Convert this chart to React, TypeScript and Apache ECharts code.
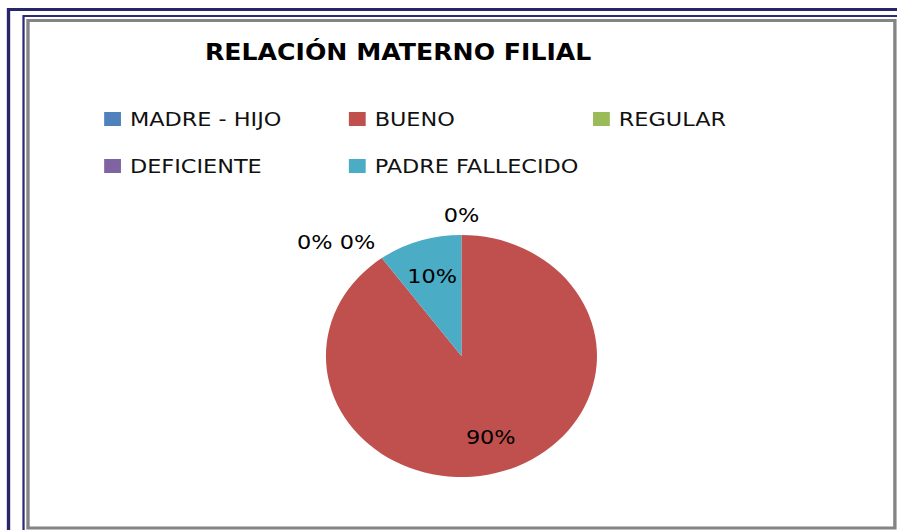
import React, { useEffect, useRef } from "react";
import * as echarts from "echarts";

const TITLE = "RELACIÓN MATERNO FILIAL";
const categories = ["MADRE - HIJO", "BUENO", "REGULAR", "DEFICIENTE", "PADRE FALLECIDO"];
const values = [0, 90, 0, 0, 10];
const colors = ["#4F81BD", "#C0504D", "#9BBB59", "#8064A2", "#4BACC6"];
const legendColumns = [
  ["MADRE - HIJO", "DEFICIENTE"],
  ["BUENO", "PADRE FALLECIDO"],
  ["REGULAR"],
];

// layout (chart space, later stretched horizontally)
const SX = 1.12;
const W = 801;
const H = 530;
const CX = 412;
const CY = 356;
const R = 121;
const legendLefts = [93, 311.5, 529.5];

export default function App() {
  const ref = useRef<HTMLDivElement>(null);
  useEffect(() => {
    if (!ref.current) return;
    const chart = echarts.init(ref.current, null, { renderer: "svg" });
    const total = values.reduce((a, b) => a + b, 0);
    const midAngles = values.map((v, i) => {
      const cum = values.slice(0, i).reduce((a, b) => a + b, 0);
      return ((cum + v / 2) / total) * Math.PI * 2;
    });

    const labelLayout = (params: any) => {
      const i = params.dataIndex;
      const a = midAngles[i];
      const s = Math.sin(a);
      const c = Math.cos(a);
      if (values[i] > 0) {
        const r = R * 0.7;
        return { x: CX + r * s, y: CY - r * c, align: "center", verticalAlign: "middle" };
      }
      let dup = 0;
      for (let j = 0; j < i; j++) {
        if (values[j] === 0 && Math.abs(midAngles[j] - a) < 1e-6) dup++;
      }
      const side = Math.abs(s) < 0.1 ? 0 : s < 0 ? -1 : 1;
      const x = CX + (R + 10) * s + side * dup * 38;
      const y = CY - (R + 20) * c;
      return {
        x,
        y,
        align: side === 0 ? "center" : side < 0 ? "right" : "left",
        verticalAlign: "middle",
      };
    };

    const legends = legendColumns.map((col, k) => ({
      orient: "vertical",
      left: legendLefts[k],
      top: 108,
      padding: 0,
      itemWidth: 15,
      itemHeight: 14,
      itemGap: 25,
      icon: "rect",
      data: col,
      textStyle: {
        fontFamily: "DejaVu Sans",
        fontSize: 20,
        lineHeight: 22,
        color: "#111",
        padding: [0, 0, 0, 3],
      },
    }));

    chart.setOption({
      animation: false,
      backgroundColor: "#fff",
      title: {
        text: TITLE,
        left: 183,
        top: 41,
        padding: 0,
        textStyle: {
          fontFamily: "DejaVu Sans",
          fontWeight: "bold",
          fontSize: 22.5,
          color: "#000",
        },
      },
      legend: legends,
      graphic: [
        {
          type: "rect",
          shape: { x: 7.6, y: 9.5, width: 900, height: 600 },
          style: { fill: "none", stroke: "#262669", lineWidth: 3 },
          z: 10,
        },
        {
          type: "rect",
          shape: { x: 21, y: 16, width: 900, height: 600 },
          style: { fill: "none", stroke: "#2c2c74", lineWidth: 2 },
          z: 10,
        },
        {
          type: "rect",
          shape: { x: 25, y: 20.5, width: 774, height: 507.5 },
          style: { fill: "none", stroke: "#848484", lineWidth: 3 },
          z: 10,
        },
      ],
      series: [
        {
          type: "pie",
          center: [CX, CY],
          radius: [0, R],
          startAngle: 90,
          clockwise: true,
          avoidLabelOverlap: false,
          itemStyle: { borderWidth: 0 },
          label: {
            show: true,
            formatter: (p: any) => Math.round(p.percent) + "%",
            fontFamily: "DejaVu Sans",
            fontSize: 20,
            color: "#000",
          },
          labelLine: { show: false },
          labelLayout,
          emphasis: { disabled: true },
          data: categories.map((name, i) => ({
            name,
            value: values[i],
            itemStyle: { color: colors[i] },
            label: { position: values[i] > 0 ? "inside" : "outside" },
          })),
        },
      ],
    } as any);
    return () => chart.dispose();
  }, []);

  return (
    <div
      ref={ref}
      style={{
        position: "fixed",
        left: 0,
        top: 0,
        width: W,
        height: H,
        transform: `scaleX(${SX})`,
        transformOrigin: "0 0",
        background: "#fff",
      }}
    />
  );
}
